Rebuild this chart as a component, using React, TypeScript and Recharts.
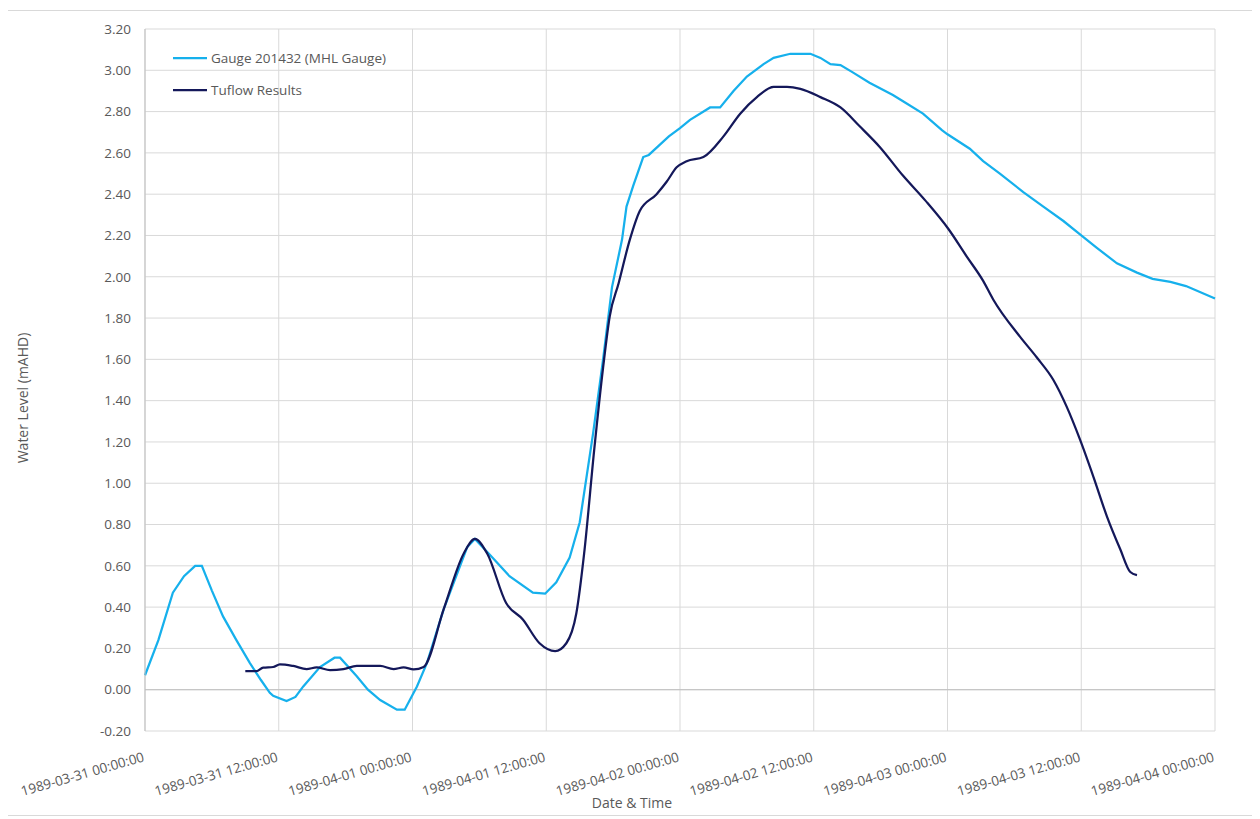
import React from "react";
import {
  CartesianGrid,
  Line,
  LineChart,
  ReferenceLine,
  XAxis,
  YAxis,
} from "recharts";

// hours since 1989-03-31 00:00:00
const gaugeHours = [
  0, 1.2, 2.5, 3.5, 4.5, 5.1, 6.0, 7.0, 8.2, 9.4, 10.4, 11.2, 11.5, 12.7, 13.5,
  14.2, 15.7, 17.0, 17.5, 19.0, 20.0, 21.1, 22.6, 23.3, 24.4, 25.3, 26.8, 28.9,
  29.6, 31.0, 32.7, 34.8, 35.9, 36.9, 38.1, 39.0, 40.2, 41.1, 41.9, 42.8, 43.2,
  43.8, 44.7, 45.2, 46.2, 47.0, 48.0, 48.9, 50.7, 51.6, 52.8, 54.0, 55.5, 56.4,
  57.9, 59.7, 60.6, 61.5, 62.4, 63.5, 65.0, 67.1, 68.3, 69.8, 71.5, 72.0, 74.0,
  75.2, 76.7, 78.8, 80.6, 82.4, 84.0, 85.4, 87.2, 89.0, 90.4, 92.0, 93.4, 96.0,
];
const gaugeLevels = [
  0.07, 0.24, 0.47, 0.55, 0.6, 0.6, 0.48, 0.355, 0.24, 0.13, 0.047, -0.015,
  -0.03, -0.055, -0.035, 0.016, 0.11, 0.155, 0.155, 0.065, 0.0, -0.05, -0.097,
  -0.097, 0.016, 0.13, 0.39, 0.69, 0.73, 0.65, 0.55, 0.47, 0.465, 0.52, 0.64,
  0.81, 1.24, 1.6, 1.95, 2.18, 2.34, 2.44, 2.58, 2.59, 2.64, 2.68, 2.72, 2.76,
  2.82, 2.82, 2.9, 2.97, 3.03, 3.06, 3.08, 3.08, 3.06, 3.03, 3.025, 2.99, 2.94,
  2.88, 2.84, 2.79, 2.71, 2.69, 2.62, 2.56, 2.5, 2.41, 2.34, 2.27, 2.2, 2.14,
  2.065, 2.02, 1.99, 1.975, 1.955, 1.895,
];

const tuflowHours = [
  9.0, 10.0, 10.6, 11.5, 12.1, 13.3, 14.5, 15.4, 16.6, 17.8, 19.0, 21.1, 22.3,
  23.2, 24.1, 25.0, 26.8, 28.6, 29.6, 30.7, 32.4, 33.9, 35.4, 36.8, 37.8, 38.7,
  39.4, 40.3, 41.1, 41.7, 42.5, 43.5, 44.4, 45.9, 46.8, 47.7, 48.6, 50.1,
  51.9, 53.4, 54.9, 56.4, 57.6, 58.8, 60.6, 62.4, 64.1, 65.9, 68.0, 70.0, 72.1,
  73.7, 75.2, 76.1, 78.5, 80.0, 81.5, 82.7, 83.9, 85.1, 86.3, 87.5, 88.4, 89.0,
];
const tuflowLevels = [
  0.09, 0.09, 0.107, 0.11, 0.123, 0.115, 0.1, 0.108, 0.095, 0.1, 0.115, 0.115,
  0.1, 0.108, 0.098, 0.11, 0.39, 0.66, 0.73, 0.66, 0.42, 0.34, 0.225, 0.187,
  0.225, 0.37, 0.66, 1.16, 1.56, 1.81, 1.97, 2.18, 2.32, 2.4, 2.46, 2.53,
  2.56, 2.58, 2.68, 2.79, 2.87, 2.92, 2.92, 2.91, 2.87, 2.82, 2.73, 2.63, 2.49,
  2.37, 2.23, 2.1, 1.98, 1.89, 1.71, 1.61, 1.5, 1.37, 1.21, 1.03, 0.84, 0.68,
  0.57, 0.555,
];

const seriesNames = ["Gauge 201432 (MHL Gauge)", "Tuflow Results"];
const seriesColors = ["#16B0EC", "#14185A"];

const xTickHours = [0, 12, 24, 36, 48, 60, 72, 84, 96];
const xTickLabels = [
  "1989-03-31 00:00:00",
  "1989-03-31 12:00:00",
  "1989-04-01 00:00:00",
  "1989-04-01 12:00:00",
  "1989-04-02 00:00:00",
  "1989-04-02 12:00:00",
  "1989-04-03 00:00:00",
  "1989-04-03 12:00:00",
  "1989-04-04 00:00:00",
];
const yTicks = [
  -0.2, 0, 0.2, 0.4, 0.6, 0.8, 1.0, 1.2, 1.4, 1.6, 1.8, 2.0, 2.2, 2.4, 2.6, 2.8,
  3.0, 3.2,
];

const gaugeData = gaugeHours.map((h, i) => ({ h, v: gaugeLevels[i] }));
const tuflowData = tuflowHours.map((h, i) => ({ h, v: tuflowLevels[i] }));

const FONT = '"Open Sans", sans-serif';
const TEXT = "#595959";

const XTick = (props: any) => {
  const { x, y, payload } = props;
  const idx = xTickHours.indexOf(payload.value);
  return (
    <text
      x={x}
      y={y + 28}
      textAnchor="end"
      fontSize={13.5}
      fontFamily={FONT}
      fill={TEXT}
      transform={`rotate(-16, ${x}, ${y + 28})`}
    >
      {xTickLabels[idx]}
    </text>
  );
};

export default function App() {
  return (
    <div
      style={{
        position: "relative",
        width: 1248,
        height: 804,
        border: "1px solid #d9d9d9",
        margin: "2px 0 0 -1px",
        background: "#fff",
      }}
    >
      <LineChart
        width={1248}
        height={804}
        margin={{ top: 18, right: 41, bottom: 44, left: 77 }}
      >
        <CartesianGrid stroke="#d9d9d9" strokeWidth={1} />
        <XAxis
          dataKey="h"
          type="number"
          domain={[0, 96]}
          ticks={xTickHours}
          interval={0}
          tick={<XTick />}
          tickLine={false}
          tickSize={0}
          axisLine={false}
          height={40}
          allowDuplicatedCategory={false}
          label={{
            content: () => (
              <text
                x={624}
                y={797}
                textAnchor="middle"
                fontSize={14}
                fontFamily={FONT}
                fill={TEXT}
              >
                Date &amp; Time
              </text>
            ),
          }}
        />
        <YAxis
          type="number"
          domain={[-0.2, 3.2]}
          ticks={yTicks}
          interval={0}
          width={60}
          tickFormatter={(v: number) => v.toFixed(2)}
          tick={{ fontSize: 13.5, fontFamily: FONT, fill: TEXT }}
          tickLine={false}
          tickSize={0}
          tickMargin={14}
          axisLine={{ stroke: "#bfbfbf" }}
          label={{
            content: () => (
              <text
                x={14}
                y={387}
                textAnchor="middle"
                dominantBaseline="central"
                fontSize={14}
                fontFamily={FONT}
                fill={TEXT}
                transform="rotate(-90, 14, 387)"
              >
                Water Level (mAHD)
              </text>
            ),
          }}
        />
        <ReferenceLine y={0} stroke="#bfbfbf" strokeWidth={1} />
        <Line
          data={gaugeData}
          dataKey="v"
          name={seriesNames[0]}
          type="linear"
          stroke={seriesColors[0]}
          strokeWidth={2.25}
          dot={false}
          isAnimationActive={false}
        />
        <Line
          data={tuflowData}
          dataKey="v"
          name={seriesNames[1]}
          type="monotone"
          stroke={seriesColors[1]}
          strokeWidth={2.25}
          dot={false}
          isAnimationActive={false}
        />
      </LineChart>
      <div
        style={{
          position: "absolute",
          left: 165,
          top: 31,
          fontFamily: FONT,
          fontSize: 13.5,
          color: TEXT,
          lineHeight: "32px",
        }}
      >
        {seriesNames.map((name, i) => (
          <div key={name} style={{ display: "flex", alignItems: "center" }}>
            <svg width={34} height={4} style={{ marginRight: 4 }}>
              <line
                x1={0}
                y1={2}
                x2={34}
                y2={2}
                stroke={seriesColors[i]}
                strokeWidth={2.25}
              />
            </svg>
            <span>{name}</span>
          </div>
        ))}
      </div>
    </div>
  );
}
